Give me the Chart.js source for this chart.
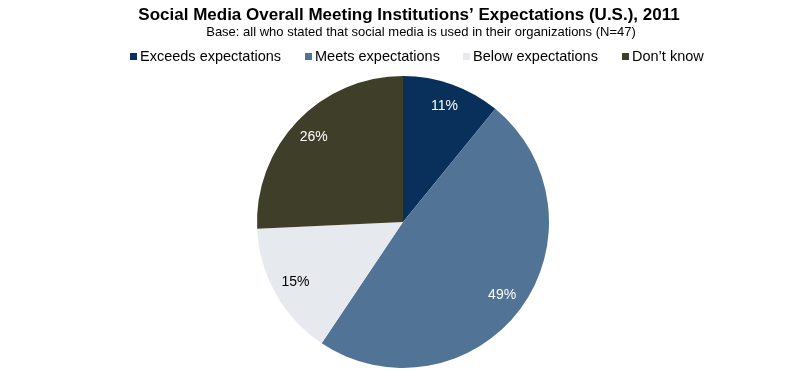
<!DOCTYPE html>
<html>
<head>
<meta charset="utf-8">
<script src="https://cdn.jsdelivr.net/npm/chart.js@4"></script>
<style>
  body { margin: 0; background: #fff; }
  #wrap { width: 810px; height: 380px; }
</style>
</head>
<body>
<div id="wrap"><canvas id="pieChart" width="810" height="380"></canvas></div>
<script>
// SOCIAL MEDIA EXPECTATIONS PIE

const titleText = 'Social Media Overall Meeting Institutions\u2019 Expectations (U.S.), 2011';
const subtitleText = 'Base: all who stated that social media is used in their organizations (N=47)';
const categories = ['Exceeds expectations', 'Meets expectations', 'Below expectations', 'Don\u2019t know'];
const shares = [11, 49, 15, 26];
const sliceColors = ['#08305a', '#517496', '#e6e9ee', '#3f3f29'];
const labelColors = ['#ffffff', '#ffffff', '#000000', '#ffffff'];

const FONT = '"Liberation Sans", Arial, sans-serif';

// title, subtitle and legend drawn by hand so they sit where the original has them
const headerPlugin = {
  id: 'header',
  afterDraw(chart) {
    const ctx = chart.ctx;
    ctx.save();
    ctx.textBaseline = 'middle';
    ctx.textAlign = 'center';
    ctx.fillStyle = '#000';
    ctx.font = 'bold 17px ' + FONT;
    ctx.fillText(titleText, 409, 15);
    ctx.font = '13px ' + FONT;
    ctx.fillText(subtitleText, 421, 32);

    ctx.font = '14.5px ' + FONT;
    ctx.textAlign = 'left';
    const starts = [130, 305, 463, 622];
    categories.forEach((c, i) => {
      ctx.fillStyle = sliceColors[i];
      ctx.fillRect(starts[i], 53, 7, 7);
      ctx.fillStyle = '#000';
      ctx.fillText(c, starts[i] + 10, 57);
    });
    ctx.restore();
  }
};

// percent labels inside each slice
const sliceLabels = {
  id: 'sliceLabels',
  afterDatasetsDraw(chart) {
    const ctx = chart.ctx;
    const meta = chart.getDatasetMeta(0);
    ctx.save();
    ctx.font = '14px ' + FONT;
    ctx.textAlign = 'center';
    ctx.textBaseline = 'middle';
    meta.data.forEach((arc, i) => {
      const mid = (arc.startAngle + arc.endAngle) / 2;
      const r = arc.outerRadius * 0.845;
      ctx.fillStyle = labelColors[i];
      ctx.fillText(shares[i] + '%', arc.x + Math.cos(mid) * r, arc.y + Math.sin(mid) * r);
    });
    ctx.restore();
  }
};

const renderPieChart = () => {
  return new Chart(document.getElementById('pieChart'), {
    type: 'pie',
    data: {
      labels: categories,
      datasets: [{
        data: shares,
        backgroundColor: sliceColors,
        borderWidth: 0
      }]
    },
    options: {
      responsive: false,
      animation: false,
      layout: { padding: { top: 76, bottom: 12, left: 0, right: 4 } },
      plugins: {
        legend: { display: false },
        tooltip: { enabled: false }
      }
    },
    plugins: [headerPlugin, sliceLabels]
  });
};

renderPieChart();
</script>
</body>
</html>
